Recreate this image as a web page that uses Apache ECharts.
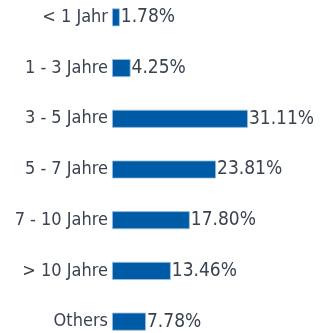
<!DOCTYPE html>
<html>
<head>
<meta charset="utf-8">
<script src="https://cdn.jsdelivr.net/npm/echarts@6/dist/echarts.min.js"></script>
<style>
  html, body { margin: 0; padding: 0; background: #fff; overflow: hidden; width: 330px; height: 333px; }
  #chart { position: absolute; left: 0; top: -8.5px; width: 330px; height: 355px; }
</style>
</head>
<body>
<div id="chart"></div>
<script>
// Restlaufzeit-Verteilung (Anteil in %)
const categories = ['< 1 Jahr', '1 - 3 Jahre', '3 - 5 Jahre', '5 - 7 Jahre', '7 - 10 Jahre', '> 10 Jahre', 'Others'];
const shares = [1.78, 4.25, 31.11, 23.81, 17.80, 13.46, 7.78];

const textColor = '#3a4350';
const font = '"DejaVu Sans Condensed", "DejaVu Sans", sans-serif';

const chart = echarts.init(document.getElementById('chart'), null, { renderer: 'canvas' });
chart.setOption({
  animation: false,
  grid: { left: 112, width: 174.8, top: 0, bottom: 0 },
  xAxis: {
    type: 'value',
    min: 0,
    max: 40,
    show: false
  },
  yAxis: {
    type: 'category',
    inverse: true,
    data: categories,
    axisLine: { show: false },
    axisTick: { show: false },
    splitLine: { show: false },
    axisLabel: {
      margin: 4,
      color: textColor,
      fontFamily: font,
      fontSize: 18
    }
  },
  series: [{
    type: 'bar',
    data: shares,
    barWidth: 18,
    itemStyle: {
      color: '#005ba6',
      borderColor: '#9fc1e0',
      borderWidth: 0.8
    },
    label: {
      show: true,
      position: 'right',
      distance: 1,
      color: textColor,
      fontFamily: font,
      fontSize: 19,
      formatter: p => p.value.toFixed(2) + '%'
    }
  }]
});
</script>
</body>
</html>
